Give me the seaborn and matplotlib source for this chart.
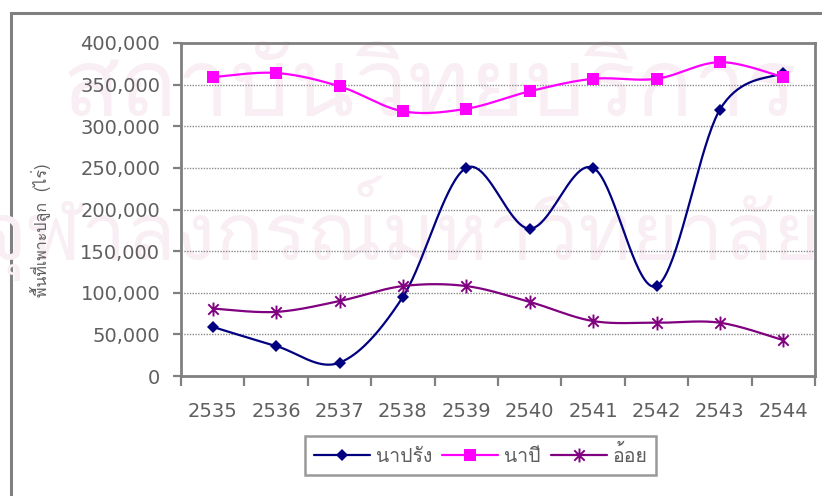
import numpy as np
import pandas as pd
import matplotlib
matplotlib.use("Agg")
import matplotlib.pyplot as plt
from matplotlib import font_manager
from matplotlib.ft2font import FT2Font
from matplotlib.path import Path
from matplotlib.lines import Line2D
import seaborn as sns

# Planted area (rai) by crop year
years = ["2535", "2536", "2537", "2538", "2539", "2540", "2541", "2542", "2543", "2544"]
na_prang = [59000, 36000, 16000, 95000, 250000, 177000, 250000, 108000, 320000, 364000]
na_pi = [359000, 364000, 348000, 318000, 321000, 342000, 357000, 357000, 377000, 359000]
oi = [81000, 77000, 90000, 108000, 108000, 89000, 66000, 64000, 64000, 43000]
series_names = ["นาปรัง", "นาปี", "อ้อย"]
y_ticks = [0, 50000, 100000, 150000, 200000, 250000, 300000, 350000, 400000]
y_label = "พื้นที่เพาะปลูก  (ไร่)"
watermark_lines = ["สถาบันวิทยบริการ", "จุฬาลงกรณ์มหาวิทยาลัย"]


def thai_family():
    """Return an installed family that has Thai glyphs."""
    for f in font_manager.fontManager.ttflist:
        try:
            cmap = FT2Font(f.fname).get_charmap()
        except Exception:
            continue
        if ord("น") in cmap and ord("ป") in cmap:
            return f.name
    return "DejaVu Sans"


sns.set_theme(style="white")
THAI = thai_family()
plt.rcParams["font.family"] = ["DejaVu Sans", THAI]

TEXT = "#5f5f5f"
FRAME = "#808080"


def smooth(y, n=40):
    """Bezier smoothing through every point (Catmull-Rom style control points)."""
    x = np.arange(len(y), dtype=float)
    y = np.asarray(y, dtype=float)
    pts = np.column_stack([x, y])
    ext = np.vstack([pts[0], pts, pts[-1]])
    out = []
    t = np.linspace(0, 1, n)[:, None]
    for i in range(len(pts) - 1):
        p0, p1, p2, p3 = ext[i], ext[i + 1], ext[i + 2], ext[i + 3]
        c1 = p1 + (p2 - p0) / 6.0
        c2 = p2 - (p3 - p1) / 6.0
        seg = ((1 - t) ** 3) * p1 + 3 * ((1 - t) ** 2) * t * c1 + 3 * (1 - t) * t ** 2 * c2 + t ** 3 * p2
        out.append(seg if i == 0 else seg[1:])
    arr = np.vstack(out)
    return arr[:, 0], arr[:, 1]


# Asterisk marker: vertical bar plus an X
star = Path(
    [(0, -1), (0, 1), (-0.75, -0.75), (0.75, 0.75), (-0.75, 0.75), (0.75, -0.75)],
    [Path.MOVETO, Path.LINETO, Path.MOVETO, Path.LINETO, Path.MOVETO, Path.LINETO],
)

styles = [
    dict(color="#000080", marker="D", ms=6.5, mew=0),
    dict(color="#FF00FF", marker="s", ms=8.3, mew=0),
    dict(color="#800080", marker=star, ms=10, mew=1.4),
]

W, H = 822, 496
fig = plt.figure(figsize=(W / 100, H / 100), dpi=100)

# Background layer in pixel units: watermark and the outer chart frame
bg = fig.add_axes([0, 0, 1, 1], zorder=-1)
bg.set_xlim(0, W)
bg.set_ylim(H, 0)
bg.axis("off")
WM = "#f8eef4"
bg.text(430, 92, watermark_lines[0], ha="center", va="center",
        fontsize=68, color=WM, family=[THAI])
bg.text(400, 228, watermark_lines[1], ha="center", va="center",
        fontsize=58, color=WM, family=[THAI])
bg.plot([11, 11, W + 5], [H + 5, 13, 13], color=FRAME, linewidth=2.2, clip_on=False,
        solid_joinstyle="miter")

ax = fig.add_axes([181 / W, 1 - 376 / H, (815 - 181) / W, (376 - 43) / H])
ax.patch.set_alpha(0)

xpos = np.arange(len(years))
data = {series_names[0]: na_prang, series_names[1]: na_pi, series_names[2]: oi}
for name, st in zip(series_names, styles):
    sx, sy = smooth(data[name])
    sns.lineplot(x=sx, y=sy, ax=ax, color=st["color"], linewidth=1.6, sort=False,
                 estimator=None, zorder=3)
    df = pd.DataFrame({"x": xpos, "y": data[name]})
    ax.plot(df["x"], df["y"], linestyle="none", marker=st["marker"], markersize=st["ms"],
            color=st["color"], markeredgecolor=st["color"], markeredgewidth=st["mew"],
            zorder=4)

ax.set_xlim(-0.5, len(years) - 0.5)
ax.set_ylim(0, 400000)
ax.set_yticks(y_ticks)
ax.set_yticklabels([f"{v:,}" for v in y_ticks])
ax.set_xticks(xpos)
ax.set_xticklabels(years)
ax.set_xticks(np.arange(-0.5, len(years)), minor=True)

ax.tick_params(axis="y", which="major", direction="out", length=6, width=1.6, color=FRAME,
               labelsize=14, labelcolor=TEXT, pad=9, left=True)
ax.tick_params(axis="x", which="major", length=0, labelsize=14, labelcolor=TEXT, pad=19)
ax.tick_params(axis="x", which="minor", direction="out", length=7, width=1.6, color=FRAME,
               bottom=True)

for v in y_ticks[1:-1]:
    ax.axhline(v, color="#8c8c8c", linestyle=(0, (1, 1)), linewidth=1.0, zorder=2)

for side in ["left", "bottom", "top", "right"]:
    ax.spines[side].set_visible(True)
    ax.spines[side].set_color(FRAME)
    ax.spines[side].set_linewidth(2.0)

ax.set_xlabel("")
ax.set_ylabel("")
fig.text(41 / W, 1 - 230 / H, y_label, rotation=90, ha="center", va="center",
         fontsize=11.5, color=TEXT, family=[THAI])

handles = [Line2D([0], [0], color=st["color"], linewidth=1.6, marker=st["marker"],
                  markersize=st["ms"], markeredgewidth=st["mew"], markeredgecolor=st["color"])
           for st in styles]
leg = ax.legend(handles, series_names, loc="upper left", bbox_to_anchor=(305 / W, 1 - 436 / H),
                bbox_transform=fig.transFigure, borderaxespad=0, ncol=3, frameon=True,
                handlelength=2.9, handletextpad=0.3, columnspacing=0.5, borderpad=0.45,
                fancybox=False, labelcolor=TEXT, prop={"family": [THAI], "size": 14})
leg.get_frame().set_edgecolor(FRAME)
leg.get_frame().set_linewidth(1.8)

fig.savefig("out.png", dpi=100)
